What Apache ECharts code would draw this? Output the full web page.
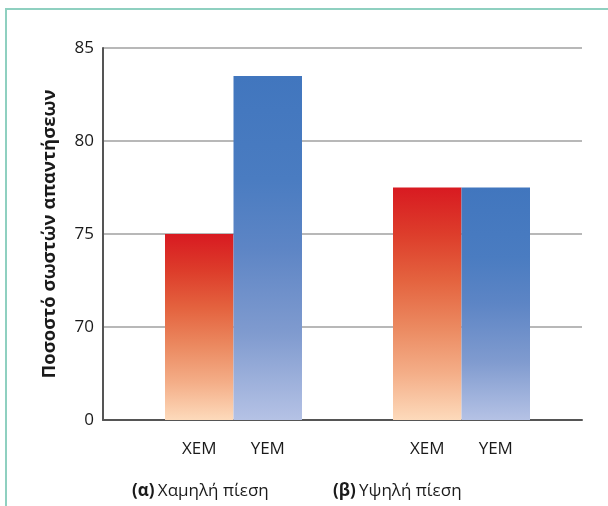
<!DOCTYPE html>
<html><head><meta charset="utf-8">
<script src="https://cdn.jsdelivr.net/npm/echarts@6/dist/echarts.min.js"></script>
<style>html,body{margin:0;padding:0;background:#fff}#c{width:608px;height:506px}</style>
</head><body><div id="c"></div>
<script>
// Data
const groups = ['(α) Χαμηλή πίεση', '(β) Υψηλή πίεση'];
const seriesNames = ['ΧΕΜ', 'ΥΕΜ'];
const xemValues = [75, 77.5];
const yemValues = [83.5, 77.5];
const yTicks = [65, 70, 75, 80, 85];
const yTickLabels = ['0', '70', '75', '80', '85'];
const yTitle = 'Ποσοστό σωστών απαντήσεων';

const chart = echarts.init(document.getElementById('c'), null, {renderer: 'canvas'});
const FONT = '"Open Sans", "Noto Sans", sans-serif';

const redGrad = new echarts.graphic.LinearGradient(0, 0, 0, 1, [
  {offset: 0, color: '#d81a21'},
  {offset: 0.2, color: '#dd3d2b'},
  {offset: 0.4, color: '#e4633f'},
  {offset: 0.6, color: '#eb8960'},
  {offset: 0.8, color: '#f4ae88'},
  {offset: 1, color: '#fddabb'}
]);
const blueGrad = new echarts.graphic.LinearGradient(0, 0, 0, 1, [
  {offset: 0, color: '#4176be'},
  {offset: 0.3, color: '#4a7cc1'},
  {offset: 0.5, color: '#5d85c5'},
  {offset: 0.75, color: '#809bcf'},
  {offset: 1, color: '#b5c2e5'}
]);

function yLabel(v) {
  const i = yTicks.indexOf(v);
  return i >= 0 ? yTickLabels[i] : '';
}

const option = {
  animation: false,
  backgroundColor: '#fff',
  grid: [
    {left: 103, right: 26, top: 48, bottom: 86},
    {left: 119.5, right: 32.5, top: 48, bottom: 86}
  ],
  xAxis: [
    {gridIndex: 0, type: 'category', data: groups,
     axisLine: {show: true, lineStyle: {color: '#555', width: 2}},
     axisTick: {show: false}, axisLabel: {show: false}, splitLine: {show: false}},
    {gridIndex: 1, type: 'category', data: groups,
     axisLine: {show: false}, axisTick: {show: false}, splitLine: {show: false},
     axisLabel: {
       margin: 21,
       formatter: function () { return '{a|' + seriesNames[0] + '}{b|' + seriesNames[1] + '}'; },
       rich: {
         a: {width: 68.5, align: 'center', fontSize: 17, color: '#1a1a1a', fontFamily: FONT},
         b: {width: 68.5, align: 'center', fontSize: 17, color: '#1a1a1a', fontFamily: FONT}
       }
     }}
  ],
  yAxis: [
    {gridIndex: 0, type: 'value', min: 65, max: 85, interval: 5,
     name: yTitle, nameLocation: 'middle', nameGap: 44,
     nameTextStyle: {fontSize: 18.5, fontWeight: 'bold', color: '#1a1a1a', fontFamily: FONT},
     axisLine: {show: true, lineStyle: {color: '#555', width: 2}},
     axisTick: {show: false},
     axisLabel: {formatter: yLabel, fontSize: 17, color: '#1a1a1a', margin: 9, fontFamily: FONT},
     splitLine: {show: true, lineStyle: {color: '#b8b8b8', width: 2}}},
    {gridIndex: 1, type: 'value', min: 65, max: 85, interval: 5,
     axisLine: {show: false}, axisTick: {show: false}, axisLabel: {show: false}, splitLine: {show: false}}
  ],
  series: [
    {name: seriesNames[0], type: 'bar', xAxisIndex: 1, yAxisIndex: 1, data: xemValues,
     barWidth: 68.5, barGap: '0%', itemStyle: {color: redGrad}},
    {name: seriesNames[1], type: 'bar', xAxisIndex: 1, yAxisIndex: 1, data: yemValues,
     barWidth: 68.5, barGap: '0%', itemStyle: {color: blueGrad}, z: 3}
  ],
  graphic: [
    {type: 'polyline', silent: true, shape: {points: [[6, 506], [6, 9], [608, 9]]},
     style: {stroke: '#8fd0c0', lineWidth: 2, fill: null}},
    {type: 'text', left: 132, top: 483,
     style: {text: '{p|(α)} {t|Χαμηλή πίεση}',
       rich: {p: {fontSize: 17, fontWeight: 'bold', fill: '#1a1a1a', fontFamily: FONT},
              t: {fontSize: 17, fill: '#1a1a1a', fontFamily: FONT}}}},
    {type: 'text', left: 333, top: 483,
     style: {text: '{p|(β)} {t|Υψηλή πίεση}',
       rich: {p: {fontSize: 17, fontWeight: 'bold', fill: '#1a1a1a', fontFamily: FONT},
              t: {fontSize: 17, fill: '#1a1a1a', fontFamily: FONT}}}}
  ]
};
chart.setOption(option);
</script></body></html>
